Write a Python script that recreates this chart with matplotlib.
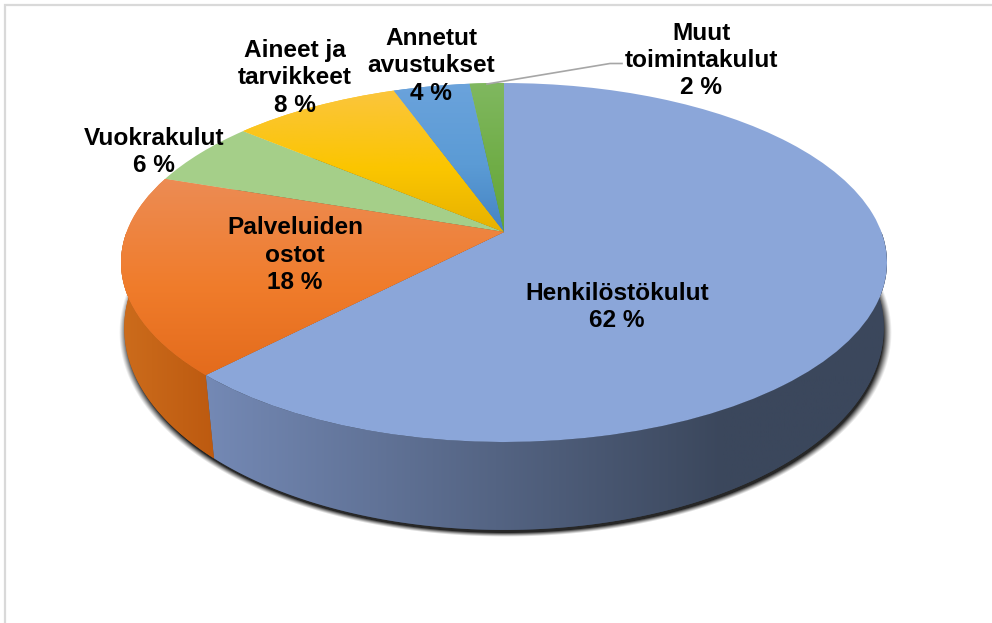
import numpy as np
import matplotlib
matplotlib.use('Agg')
import matplotlib.pyplot as plt
from matplotlib.colors import to_rgb
from matplotlib.transforms import Transform
from matplotlib.patches import Polygon

# data
labels = ['Henkilöstökulut', 'Palveluiden\nostot', 'Vuokrakulut', 'Aineet ja\ntarvikkeet',
          'Annetut\navustukset', 'Muut\ntoimintakulut']
pct_labels = ['62 %', '18 %', '6 %', '8 %', '4 %', '2 %']
values = [62.2, 18.0, 5.9, 8.4, 3.8, 1.7]
label_xy = [(617, 307), (295, 255), (154, 152), (295, 78), (431, 66), (701, 60.5)]

base_colors = ['#8ba6d9', '#ee7d31', '#a5cf89', '#fbc31c', '#5b9bd5', '#70ad47']
top_grad = [None, ['#ec8c55', '#f07c2b', '#e36b1c'], None, ['#fbc53f', '#fbc600', '#e6b000'],
            ['#6ba3dc', '#5b9bd5', '#4483c2'], ['#80b860', '#70ad47', '#62a538']]

W, H = 992, 623


class Persp(Transform):
    # unit disk -> tilted ellipse in pixel coordinates
    input_dims = 2
    output_dims = 2
    has_inverse = False

    def __init__(self, cx, cy, a, b, k):
        super().__init__()
        self.cx, self.cy, self.a, self.b, self.k = cx, cy, a, b, k

    def transform_non_affine(self, values):
        v = np.asarray(values)
        w = 1 + self.k * v[:, 1]
        return np.column_stack([self.cx + self.a * v[:, 0] / w, self.cy - self.b * v[:, 1] / w])


top = Persp(504, 232, 377.4, 174.3, 0.17)
bot = Persp(504, 299.7, 376.0, 198.0, 0.14)

plt.rcParams['font.family'] = ['Liberation Sans', 'DejaVu Sans']
fig = plt.figure(figsize=(W / 100, H / 100), dpi=100)
ax = fig.add_axes([0, 0, 1, 1])

wedges, _ = ax.pie(values, startangle=90, counterclock=False, colors=base_colors, radius=1)


def rim(theta1, theta2, n=200):
    t = np.radians(np.linspace(theta1, theta2, n))
    return np.column_stack([np.cos(t), np.sin(t)])


def ramp(colors, stops, n=256):
    rgb = np.array([to_rgb(c) for c in colors])
    t = np.linspace(0, 1, n)
    return np.column_stack([np.interp(t, stops, rgb[:, i]) for i in range(3)])


# soft shadow under the pie
yy, xx = np.mgrid[0:H, 0:W]
r = np.sqrt(((xx - 505) / 386.5) ** 2 + ((yy - 332) / 204.5) ** 2)
alpha = np.clip((1.0 - r) / 0.022, 0, 1) ** 1.2 * 0.85
shadow = np.zeros((H, W, 4))
shadow[..., 3] = alpha
ax.imshow(shadow, extent=(0, W, H, 0), aspect='auto', zorder=1)

# side walls, only the two front slices show
side = [(['#7489b5', '#3b475c', '#3b475c'], [0, 0.76, 1], (205, 887)),
        (['#cc6c1c', '#bd5a10'], [0, 1], (121, 214))]
for w, (cols, stops, (x0, x1)) in zip(wedges, side):
    rp = rim(max(w.theta1, -180), min(w.theta2, 0))
    poly = np.vstack([top.transform(rp), bot.transform(rp)[::-1]])
    patch = Polygon(poly, closed=True, facecolor=cols[-1], edgecolor='none', zorder=2)
    ax.add_patch(patch)
    im = ax.imshow(ramp(cols, stops)[None, :, :], extent=(x0, x1, 560, 200), aspect='auto', zorder=3)
    im.set_clip_path(patch)

# top faces
for w, g in zip(wedges, top_grad):
    w.set_transform(top + ax.transData)
    w.set_zorder(4)
    w.set_edgecolor('none')
    if g is not None:
        bb = top.transform(np.vstack([rim(w.theta1, w.theta2), [[0, 0]]]))
        im = ax.imshow(ramp(g, [0, 0.55, 1])[:, None, :],
                       extent=(bb[:, 0].min() - 2, bb[:, 0].max() + 2, bb[:, 1].max() + 2, bb[:, 1].min() - 2),
                       aspect='auto', zorder=5)
        im.set_clip_path(w)

# leader line for the smallest slice
ax.plot([487, 610, 622], [84, 63.5, 63.5], color='#a6a6a6', lw=1.2, zorder=6)

for t, p, (x, y) in zip(labels, pct_labels, label_xy):
    ax.text(x, y, f'{t}\n{p}', ha='center', va='center', multialignment='center',
            fontsize=17.6, fontweight='bold', color='black', linespacing=1.25, zorder=7)

# chart frame, top and left only
ax.plot([5, 5, W], [H, 5, 5], color='#d9d9d9', lw=1.6, zorder=0, solid_joinstyle='miter')

ax.set_aspect('auto')
ax.set_xlim(0, W)
ax.set_ylim(H, 0)
ax.axis('off')
fig.savefig('out.png', dpi=100)
